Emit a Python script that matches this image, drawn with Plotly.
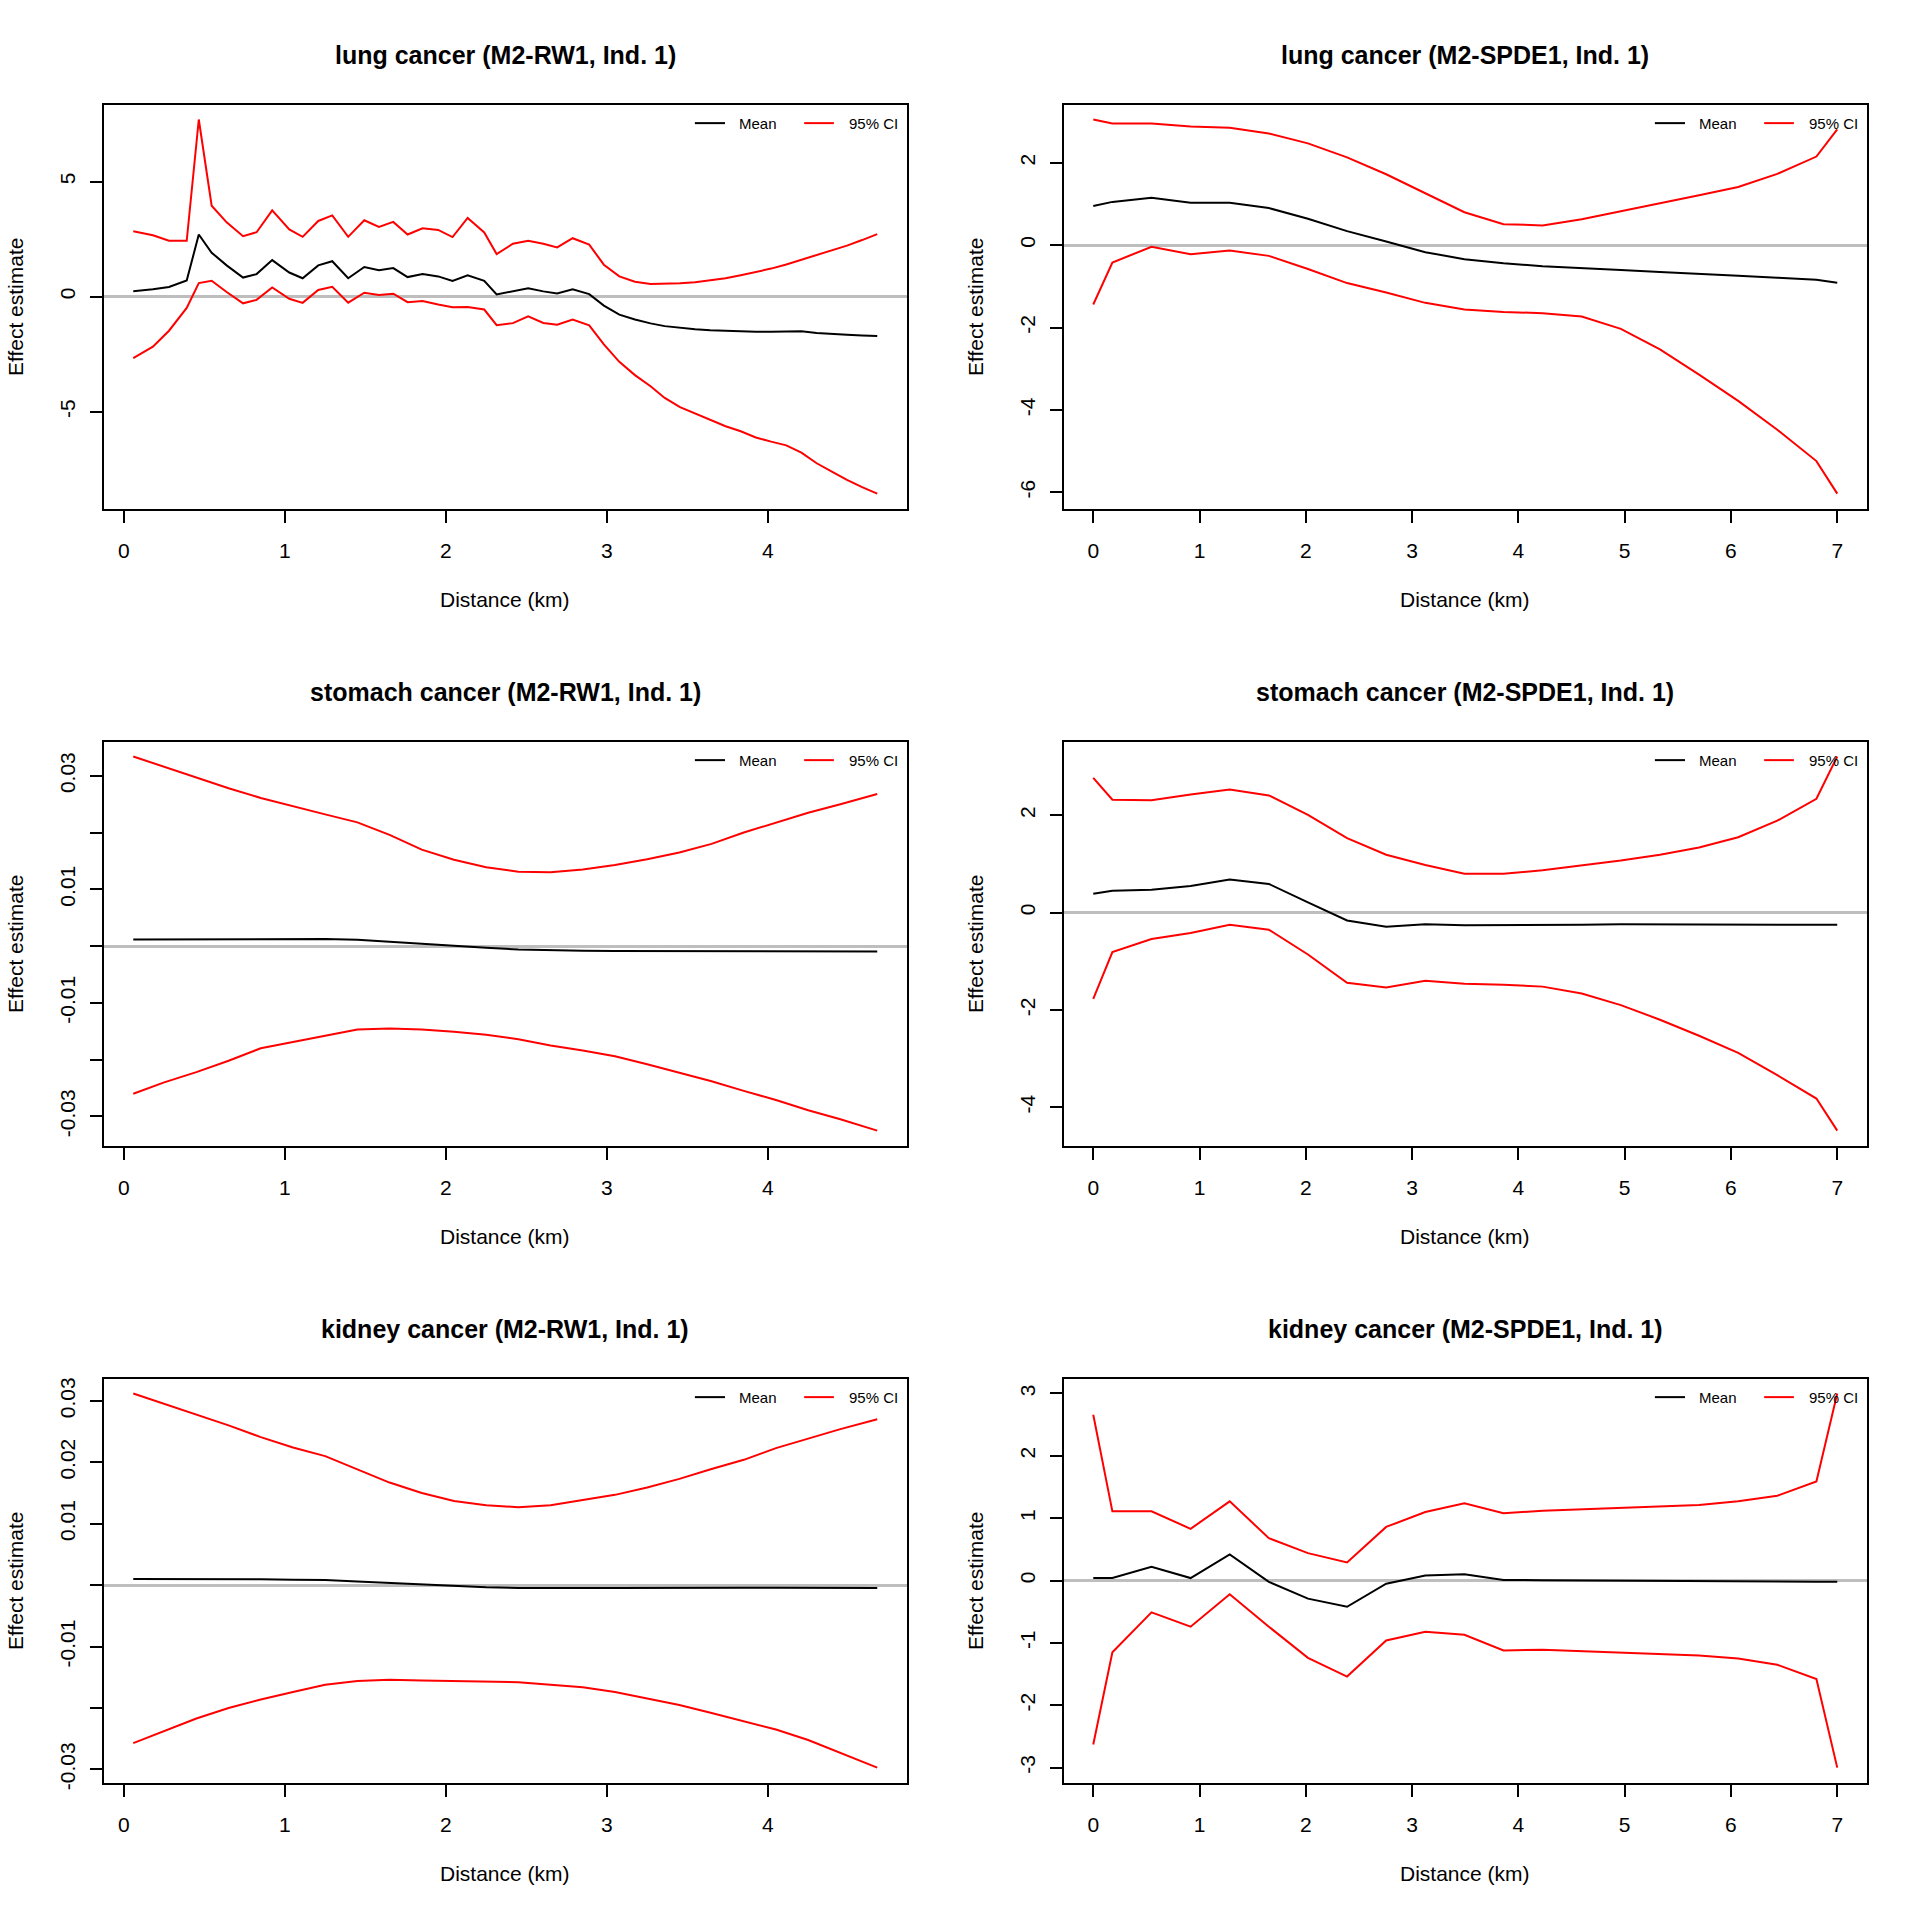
import plotly.graph_objects as go

# ---------------- data ----------------
# RW1 lung (irregular distance groups)
x_rw1 = [0.058, 0.18, 0.28, 0.39, 0.465, 0.545, 0.638, 0.74, 0.824, 0.921,
         1.027, 1.11, 1.207, 1.294, 1.393, 1.493, 1.584, 1.673, 1.762, 1.855,
         1.952, 2.041, 2.135, 2.238, 2.315, 2.416, 2.511, 2.605, 2.691, 2.787,
         2.89, 2.981, 3.077, 3.174, 3.271, 3.359, 3.454, 3.548, 3.642, 3.737,
         3.831, 3.925, 4.02, 4.114, 4.208, 4.303, 4.397, 4.491, 4.585, 4.679]
lung_rw1_upper = [2.84, 2.67, 2.43, 2.43, 7.70, 3.95, 3.23, 2.63, 2.80, 3.75,
                  2.92, 2.60, 3.29, 3.53, 2.60, 3.32, 3.03, 3.25, 2.70, 2.97,
                  2.90, 2.59, 3.42, 2.79, 1.85, 2.30, 2.43, 2.30, 2.14, 2.54,
                  2.26, 1.39, 0.88, 0.65, 0.55, 0.56, 0.58, 0.63, 0.70, 0.80,
                  0.93, 1.06, 1.22, 1.40, 1.60, 1.80, 2.02, 2.22, 2.46, 2.72]
lung_rw1_mean = [0.24, 0.32, 0.42, 0.70, 2.70, 1.91, 1.36, 0.83, 0.98, 1.59,
                 1.05, 0.80, 1.36, 1.54, 0.80, 1.29, 1.15, 1.24, 0.85, 0.98,
                 0.88, 0.68, 0.93, 0.69, 0.10, 0.22, 0.36, 0.23, 0.14, 0.32,
                 0.11, -0.39, -0.78, -0.99, -1.16, -1.28, -1.36, -1.42, -1.46, -1.49,
                 -1.51, -1.52, -1.52, -1.52, -1.50, -1.58, -1.63, -1.66, -1.69, -1.71]
lung_rw1_lower = [-2.67, -2.17, -1.48, -0.49, 0.59, 0.69, 0.20, -0.29, -0.14, 0.40,
                  -0.09, -0.27, 0.29, 0.43, -0.26, 0.17, 0.07, 0.13, -0.24, -0.19,
                  -0.34, -0.46, -0.45, -0.56, -1.24, -1.15, -0.86, -1.14, -1.22, -0.99,
                  -1.25, -2.07, -2.83, -3.41, -3.89, -4.40, -4.80, -5.08, -5.35, -5.63,
                  -5.85, -6.12, -6.30, -6.46, -6.78, -7.24, -7.60, -7.96, -8.28, -8.56]

# RW1 stomach / kidney (smooth curves)
x_rw1_s = [0.058, 0.25, 0.45, 0.65, 0.85, 1.05, 1.25, 1.45, 1.65, 1.85, 2.05, 2.25,
           2.45, 2.65, 2.85, 3.05, 3.25, 3.45, 3.65, 3.85, 4.05, 4.25, 4.45, 4.679]
stom_rw1_upper = [0.0334, 0.0316, 0.0298, 0.0278, 0.0261, 0.0246, 0.0232, 0.0218,
                  0.0196, 0.0170, 0.0152, 0.0139, 0.0131, 0.0130, 0.0135, 0.0143,
                  0.0153, 0.0165, 0.0180, 0.0200, 0.0217, 0.0235, 0.0250, 0.0268]
stom_rw1_mean = [0.00115, 0.00117, 0.0012, 0.0012, 0.00127, 0.00128, 0.00125, 0.00112,
                 0.00075, 0.00035, 0.0, -0.0003, -0.00058, -0.00075, -0.00082, -0.00086,
                 -0.00088, -0.00089, -0.0009, -0.00091, -0.00092, -0.00092, -0.00093, -0.00093]
stom_rw1_lower = [-0.0260, -0.0240, -0.0222, -0.0202, -0.0180, -0.0169, -0.0157, -0.0147,
                  -0.0145, -0.0147, -0.0151, -0.0156, -0.0164, -0.0175, -0.0184, -0.0194,
                  -0.0208, -0.0223, -0.0238, -0.0255, -0.0271, -0.0289, -0.0305, -0.0325]
kid_rw1_upper = [0.0312, 0.0295, 0.0277, 0.0260, 0.0241, 0.0224, 0.0210, 0.0189,
                 0.0167, 0.0150, 0.0137, 0.0130, 0.0127, 0.0130, 0.0138, 0.0147,
                 0.0159, 0.0173, 0.0189, 0.0204, 0.0223, 0.0239, 0.0254, 0.0270]
kid_rw1_mean = [0.0010, 0.0010, 0.00105, 0.0010, 0.00095, 0.0009, 0.00085, 0.0006,
                0.00035, 0.0001, -0.0002, -0.00035, -0.00045, -0.0005, -0.00048, -0.00045,
                -0.00042, -0.0004, -0.0004, -0.00042, -0.00044, -0.00045, -0.00046, -0.00047]
kid_rw1_lower = [-0.0257, -0.0238, -0.0217, -0.0200, -0.0186, -0.0174, -0.0162, -0.0156,
                 -0.0154, -0.0155, -0.0156, -0.0156, -0.0158, -0.0162, -0.0166, -0.0174,
                 -0.0184, -0.0195, -0.0208, -0.0221, -0.0235, -0.0252, -0.0273, -0.0297]

# SPDE mesh knots
x_spde = [0, 0.18, 0.548, 0.916, 1.284, 1.652, 2.02, 2.388, 2.756, 3.124, 3.492,
          3.86, 4.228, 4.596, 4.964, 5.332, 5.70, 6.068, 6.436, 6.804, 7.0]
lung_spde_upper = [3.05, 2.95, 2.95, 2.88, 2.85, 2.71, 2.47, 2.13, 1.72, 1.25, 0.80,
                   0.51, 0.48, 0.63, 0.82, 1.02, 1.21, 1.41, 1.73, 2.15, 2.81]
lung_spde_mean = [0.95, 1.05, 1.15, 1.03, 1.03, 0.90, 0.64, 0.34, 0.09, -0.17, -0.34,
                  -0.44, -0.51, -0.55, -0.60, -0.65, -0.69, -0.74, -0.79, -0.84, -0.91]
lung_spde_lower = [-1.44, -0.42, -0.04, -0.22, -0.13, -0.26, -0.58, -0.92, -1.15, -1.40, -1.56,
                   -1.62, -1.65, -1.73, -2.03, -2.53, -3.14, -3.78, -4.48, -5.24, -6.03]
stom_spde_upper = [2.77, 2.32, 2.31, 2.43, 2.53, 2.41, 2.01, 1.53, 1.19, 0.98, 0.80,
                   0.80, 0.87, 0.97, 1.07, 1.19, 1.34, 1.55, 1.89, 2.34, 3.21]
stom_spde_mean = [0.39, 0.45, 0.47, 0.55, 0.68, 0.59, 0.21, -0.16, -0.29, -0.24, -0.26,
                  -0.26, -0.26, -0.25, -0.24, -0.24, -0.24, -0.24, -0.25, -0.25, -0.25]
stom_spde_lower = [-1.77, -0.81, -0.54, -0.42, -0.25, -0.35, -0.86, -1.44, -1.54, -1.40, -1.46,
                   -1.48, -1.52, -1.66, -1.90, -2.20, -2.53, -2.88, -3.34, -3.82, -4.48]
kid_spde_upper = [2.66, 1.11, 1.11, 0.83, 1.27, 0.68, 0.44, 0.29, 0.86, 1.10, 1.24,
                  1.08, 1.12, 1.14, 1.17, 1.18, 1.21, 1.27, 1.36, 1.59, 3.00]
kid_spde_mean = [0.04, 0.04, 0.22, 0.04, 0.42, -0.02, -0.29, -0.42, -0.05, 0.08, 0.10,
                 0.01, 0.005, 0.0, -0.005, -0.005, -0.01, -0.01, -0.015, -0.02, -0.02]
kid_spde_lower = [-2.63, -1.15, -0.51, -0.74, -0.22, -0.74, -1.24, -1.54, -0.96, -0.82, -0.87,
                  -1.12, -1.11, -1.13, -1.15, -1.17, -1.20, -1.25, -1.35, -1.58, -3.00]

titles = ["lung cancer (M2-RW1, Ind. 1)", "lung cancer (M2-SPDE1, Ind. 1)",
          "stomach cancer (M2-RW1, Ind. 1)", "stomach cancer (M2-SPDE1, Ind. 1)",
          "kidney cancer (M2-RW1, Ind. 1)", "kidney cancer (M2-SPDE1, Ind. 1)"]
xlabel = "Distance (km)"
ylabel = "Effect estimate"
legend_labels = ["Mean", "95% CI"]

rw_xticks = [0, 1, 2, 3, 4]
spde_xticks = [0, 1, 2, 3, 4, 5, 6, 7]
yticks = [
    ([-5, 0, 5], ["-5", "0", "5"]),
    ([-6, -4, -2, 0, 2], ["-6", "-4", "-2", "0", "2"]),
    ([-0.03, -0.02, -0.01, 0, 0.01, 0.02, 0.03], ["-0.03", "", "-0.01", "", "0.01", "", "0.03"]),
    ([-4, -2, 0, 2], ["-4", "-2", "0", "2"]),
    ([-0.03, -0.02, -0.01, 0, 0.01, 0.02, 0.03], ["-0.03", "", "-0.01", "", "0.01", "0.02", "0.03"]),
    ([-3, -2, -1, 0, 1, 2, 3], ["-3", "-2", "-1", "0", "1", "2", "3"]),
]

panels = [
    (x_rw1, lung_rw1_mean, lung_rw1_upper, lung_rw1_lower, rw_xticks),
    (x_spde, lung_spde_mean, lung_spde_upper, lung_spde_lower, spde_xticks),
    (x_rw1_s, stom_rw1_mean, stom_rw1_upper, stom_rw1_lower, rw_xticks),
    (x_spde, stom_spde_mean, stom_spde_upper, stom_spde_lower, spde_xticks),
    (x_rw1_s, kid_rw1_mean, kid_rw1_upper, kid_rw1_lower, rw_xticks),
    (x_spde, kid_spde_mean, kid_spde_upper, kid_spde_lower, spde_xticks),
]

# ---------------- layout ----------------
W = H = 1920
FONT = "Liberation Sans, Arial, Helvetica, sans-serif"
box_l, box_r, box_t, box_b = 103.5, 907.0, 104.0, 510.0   # inside each 960x640 cell


def rpad(vals):
    lo, hi = min(vals), max(vals)
    d = (hi - lo) * 0.04
    return [lo - d, hi + d]


fig = go.Figure()
layout = dict(width=W, height=H, margin=dict(l=0, r=0, t=0, b=0),
              paper_bgcolor="white", plot_bgcolor="white", showlegend=False,
              font=dict(family=FONT, color="black"))
annotations = []
shapes = []

for i, (xs, mean, up, lo, xt) in enumerate(panels):
    k = i + 1
    r, c = divmod(i, 2)
    xa = "x" if k == 1 else f"x{k}"
    ya = "y" if k == 1 else f"y{k}"
    xd = [(box_l + 960 * c) / W, (box_r + 960 * c) / W]
    yd = [1 - (box_b + 640 * r) / H, 1 - (box_t + 640 * r) / H]

    for ys, col in ((mean, "black"), (up, "#FF0000"), (lo, "#FF0000")):
        fig.add_trace(go.Scatter(x=xs, y=ys, mode="lines", xaxis=xa, yaxis=ya,
                                 line=dict(color=col, width=2), hoverinfo="skip"))

    tv, tt = yticks[i]
    layout[f"xaxis{k}" if k > 1 else "xaxis"] = dict(
        domain=xd, anchor=ya, range=rpad(xs), tickvals=xt, ticktext=[str(v) for v in xt],
        ticks="outside", ticklen=12, tickwidth=2, tickcolor="black",
        showline=True, linecolor="black", linewidth=2, mirror=True,
        showgrid=False, zeroline=False, tickfont=dict(size=21, family=FONT),
        ticklabelstandoff=10)
    layout[f"yaxis{k}" if k > 1 else "yaxis"] = dict(
        domain=yd, anchor=xa, range=rpad(up + lo + mean), tickvals=tv, ticktext=tt,
        ticks="outside", ticklen=12, tickwidth=2, tickcolor="black",
        showline=True, linecolor="black", linewidth=2, mirror=True,
        showgrid=False, zeroline=True, zerolinecolor="#BEBEBE", zerolinewidth=2.5,
        tickangle=-90, tickfont=dict(size=21, family=FONT), ticklabelstandoff=6)

    cx = (box_l + box_r) / 2 + 960 * c
    annotations.append(dict(text=f"<b>{titles[i]}</b>", xref="paper", yref="paper",
                            x=cx / W, y=1 - (54 + 640 * r) / H, showarrow=False,
                            xanchor="center", yanchor="middle",
                            font=dict(size=25, family=FONT, color="black")))
    annotations.append(dict(text=xlabel, xref="paper", yref="paper",
                            x=cx / W, y=1 - (601 + 640 * r) / H, showarrow=False,
                            xanchor="center", yanchor="middle",
                            font=dict(size=21, family=FONT, color="black")))
    annotations.append(dict(text=ylabel, xref="paper", yref="paper", textangle=-90,
                            x=(15.5 + 960 * c) / W, y=1 - ((box_t + box_b) / 2 + 640 * r) / H,
                            showarrow=False, xanchor="center", yanchor="middle",
                            font=dict(size=21, family=FONT, color="black")))
    # legend (top right, no box)
    dref_x, dref_y = f"{xa} domain", f"{ya} domain"
    ly = 1 - 18.7 / (box_b - box_t)
    for (x0, x1, tx), col, lab in (((0.736, 0.7735, 0.789), "black", legend_labels[0]),
                                    ((0.872, 0.909, 0.925), "#FF0000", legend_labels[1])):
        shapes.append(dict(type="line", xref=dref_x, yref=dref_y, x0=x0, x1=x1, y0=ly, y1=ly,
                           line=dict(color=col, width=2)))
        annotations.append(dict(text=lab, xref=dref_x, yref=dref_y, x=tx, y=ly,
                                showarrow=False, xanchor="left", yanchor="middle",
                                font=dict(size=15, family=FONT, color="black")))

layout["annotations"] = annotations
layout["shapes"] = shapes
fig.update_layout(**layout)
fig.write_html("out.html", config={"displayModeBar": False},
               post_script="document.body.style.margin='0';")
